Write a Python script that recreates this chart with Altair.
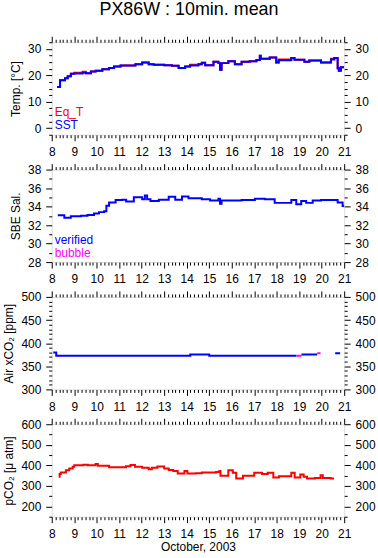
import altair as alt
import pandas as pd

FONT = "Liberation Sans"

# ---------------- data ----------------
temp_day = [8.24, 8.37, 8.59, 8.71, 8.85, 9.0, 9.37, 9.52, 9.74, 9.95, 10.25, 10.55, 10.77,
            11.06, 11.72, 12.02, 12.31, 12.53, 13.0, 13.34, 13.64, 13.93, 14.15, 14.52, 14.67,
            14.82, 15.19, 15.41, 15.48, 15.55, 15.85, 16.14, 16.44, 16.8, 17.1, 17.25, 17.29,
            17.69, 17.98, 18.09, 18.65, 18.79, 19.23, 19.45, 19.97, 20.41, 20.56, 20.71, 20.76,
            20.85, 21.0]
sst = [15.6, 18.1, 18.9, 19.6, 20.6, 20.7, 21.0, 20.8, 21.4, 21.7, 22.3, 22.8, 23.3,
       23.7, 24.2, 24.8, 24.2, 24.0, 23.8, 23.6, 22.8, 23.3, 23.7, 24.2, 24.7,
       23.8, 25.1, 24.6, 22.1, 24.6, 25.3, 24.2, 25.1, 25.3, 25.8, 27.4, 26.3,
       26.7, 24.8, 25.7, 26.5, 25.9, 25.1, 25.6, 24.8, 26.0, 26.5, 22.7, 21.7,
       23.0, 23.0]
eq_t = [15.6, 18.1, 18.9, 19.6, 20.6, 21.0, 21.3, 20.8, 21.4, 21.7, 22.3, 22.8, 23.3,
        23.7, 24.2, 24.8, 24.2, 24.0, 23.8, 23.6, 22.8, 23.3, 24.0, 24.2, 24.7,
        23.8, 25.1, 24.6, 22.1, 24.6, 25.3, 24.2, 25.1, 25.3, 25.8, 27.4, 26.3,
        26.7, 24.8, 26.0, 26.5, 25.9, 25.1, 25.6, 24.8, 26.3, 26.5, 22.7, 21.7,
        23.0, 23.0]

sal_day = [8.27, 8.56, 8.85, 9.3, 9.59, 9.88, 10.1, 10.33, 10.43, 10.55, 10.84, 11.14, 11.31,
           11.65, 12.02, 12.14, 12.24, 12.39, 12.76, 13.2, 13.49, 13.79, 14.08, 14.67, 15.04,
           15.41, 15.48, 15.55, 16.44, 17.03, 17.47, 17.91, 18.65, 18.87, 19.09, 19.31, 19.6,
           19.97, 20.71, 20.93, 21.0]
sal = [33.05, 32.8, 32.95, 33.0, 33.1, 33.25, 33.4, 33.5, 34.1, 34.45, 34.7, 34.75, 34.55,
       35.0, 34.8, 35.2, 34.8, 34.6, 34.75, 35.05, 34.75, 35.1, 34.9, 34.8, 34.65,
       34.85, 34.3, 34.65, 34.7, 34.85, 34.8, 34.4, 34.7, 34.25, 34.6, 34.4, 34.65,
       34.7, 34.45, 34.05, 34.05]

air_day = [8.07, 8.2, 14.16, 15.0, 18.88, 18.88, 19.1, 19.1, 19.8, 19.8, 19.95, 20.6, 20.82]
air_val = [380, 373, 375.7, 373, 373, 373, 373, 375.7, 375.7, 378, 378, 378, 378]
air_seg = [0, 0, 0, 0, 0, 1, 1, 2, 2, 3, 3, 4, 4]
air_flag = ["verified"] * 5 + ["bubble"] * 2 + ["verified"] * 2 + ["bubble"] * 2 + ["verified"] * 2

pco2_day = [8.31, 8.35, 8.4, 8.63, 8.78, 8.93, 9.0, 9.4, 9.6, 9.95, 10.05, 10.55, 11.3, 11.5,
            11.7, 12.02, 12.31, 12.45, 12.7, 13.0, 13.2, 13.4, 13.6, 13.9, 14.03, 14.4, 14.67,
            15.3, 15.45, 15.5, 15.85, 16.05, 16.2, 16.5, 17.0, 17.35, 17.6, 17.85, 18.1, 18.65,
            18.8, 19.05, 19.2, 19.35, 19.7, 19.95, 20.05, 20.4, 20.55]
pco2 = [344, 358, 365, 376, 385, 393, 401, 403, 400, 407, 398, 391, 396, 402,
        393, 388, 381, 388, 394, 385, 377, 372, 360, 372, 360, 362, 365,
        368, 373, 349, 376, 364, 336, 349, 364, 358, 364, 341, 347, 364,
        341, 355, 344, 336, 339, 352, 339, 336, 336]

x_major = list(range(8, 22))
x_minor = [8 + i / 6 for i in range(13 * 6 + 1) if i % 6 != 0]

W, H = 294, 93


def xscale():
    return alt.Scale(domain=[8, 21], nice=False, zero=False)


def yscale(dom):
    return alt.Scale(domain=dom, nice=False, zero=False)


def xaxis(orient, values, size, labels, title=None):
    kw = dict(orient=orient, values=values, tickSize=size, labels=labels, domain=False,
              grid=False, ticks=True, tickColor="black", tickWidth=1)
    if labels:
        kw.update(labelFont=FONT, labelFontSize=12, labelColor="black", labelPadding=6,
                  labelFlush=False, labelOverlap=False)
    if title:
        kw.update(title=title, titleFont=FONT, titleFontSize=12, titleFontWeight="normal",
                  titleColor="black", titlePadding=2)
    else:
        kw.update(title=None)
    return alt.Axis(**kw)


def yaxis(orient, values, size, labels, title=None, fmt="d"):
    kw = dict(orient=orient, values=values, tickSize=size, labels=labels, domain=False,
              grid=False, ticks=True, tickColor="black", tickWidth=1)
    if labels:
        kw.update(labelFont=FONT, labelFontSize=12, labelColor="black", labelPadding=5,
                  labelFlush=False, labelOverlap=False, format=fmt)
    if title:
        kw.update(title=title, titleFont=FONT, titleFontSize=12, titleFontWeight="normal",
                  titleColor="black", titlePadding=5)
    else:
        kw.update(title=None)
    return alt.Axis(**kw)


def panel(data_layers, df_any, ydom, y_major, y_minor, ytitle, xtitle=None, texts=()):
    def ghost(xa, ya):
        return alt.Chart(df_any).mark_point(opacity=0).encode(
            x=alt.X("day:Q", scale=xscale(), axis=xa),
            y=alt.Y("v:Q", scale=yscale(ydom), axis=ya),
        )

    layers = []
    layers.append(ghost(xaxis("bottom", x_major, 6, True, xtitle),
                        yaxis("left", y_major, 6, True, ytitle)))
    layers.append(ghost(xaxis("top", x_major, 6, False),
                        yaxis("right", y_major, 6, True)))
    layers.append(ghost(xaxis("bottom", x_minor, 3, False),
                        yaxis("left", y_minor, 3, False)))
    layers.append(ghost(xaxis("top", x_minor, 3, False),
                        yaxis("right", y_minor, 3, False)))
    for lay in data_layers:
        layers.append(lay)
    for (txt, color, ypix) in texts:
        layers.append(
            alt.Chart(pd.DataFrame({"t": [txt]})).mark_text(
                font=FONT, fontSize=12, color=color, align="left", baseline="middle"
            ).encode(text="t:N", x=alt.value(3), y=alt.value(ypix))
        )
    return alt.layer(*layers).resolve_scale(x="independent", y="independent").properties(
        width=W, height=H)


def line_layer(df, ydom, color):
    return alt.Chart(df).mark_line(
        color=color, strokeWidth=2, interpolate="step-after", clip=True
    ).encode(
        x=alt.X("day:Q", scale=xscale(), axis=None),
        y=alt.Y("v:Q", scale=yscale(ydom), axis=None),
    )


# panel 1
df_sst = pd.DataFrame({"day": temp_day, "v": sst})
df_eq = pd.DataFrame({"day": temp_day, "v": eq_t})
d1 = [-2.5, 32.5]
p1 = panel([line_layer(df_eq, d1, "#ff0000"), line_layer(df_sst, d1, "#0000ff")], df_sst, d1,
           [0, 10, 20, 30], [-2.5, 2.5, 5, 7.5, 12.5, 15, 17.5, 22.5, 25, 27.5, 32.5],
           "Temp. [°C]", texts=[("Eq_T", "#ff0000", 70), ("SST", "#0000ff", 83.5)])

# panel 2
df_sal = pd.DataFrame({"day": sal_day, "v": sal})
d2 = [28, 38]
p2 = panel([line_layer(df_sal, d2, "#0000ff")], df_sal, d2,
           [28, 30, 32, 34, 36, 38], [29, 31, 33, 35, 37],
           "SBE Sal.", texts=[("verified", "#0000ff", 70.5), ("bubble", "#ff00ff", 84)])

# panel 3
df_air = pd.DataFrame({"day": air_day, "v": air_val, "seg": air_seg, "flag": air_flag})
d3 = [300, 500]
air_line = alt.Chart(df_air).mark_line(strokeWidth=2, interpolate="step-after", clip=True).encode(
    x=alt.X("day:Q", scale=xscale(), axis=None),
    y=alt.Y("v:Q", scale=yscale(d3), axis=None),
    detail="seg:N",
    color=alt.Color("flag:N", scale=alt.Scale(domain=["verified", "bubble"],
                                               range=["#0000ff", "#ff00ff"]), legend=None),
)
p3 = panel([air_line], df_air, d3,
           [300, 350, 400, 450, 500],
           [v for v in range(300, 501, 10) if v % 50 != 0],
           "Air xCO₂ [ppm]")

# panel 4
df_p = pd.DataFrame({"day": pco2_day, "v": pco2})
d4 = [150, 600]
p4 = panel([line_layer(df_p, d4, "#ff0000")], df_p, d4,
           [200, 300, 400, 500, 600], [150, 250, 350, 450, 550],
           "pCO₂ [μ atm]", xtitle="October, 2003")

chart = alt.vconcat(p1, p2, p3, p4, spacing=4).properties(
    title=alt.TitleParams("PX86W : 10min. mean", font=FONT, fontSize=18, fontWeight="normal",
                          color="black", anchor="middle", offset=16),
    padding={"left": 2, "right": 2, "top": 0, "bottom": 1},
).configure_view(stroke="black", strokeWidth=1).configure(background="white")

chart.save("out.html", embed_options={"renderer": "svg", "actions": False})
